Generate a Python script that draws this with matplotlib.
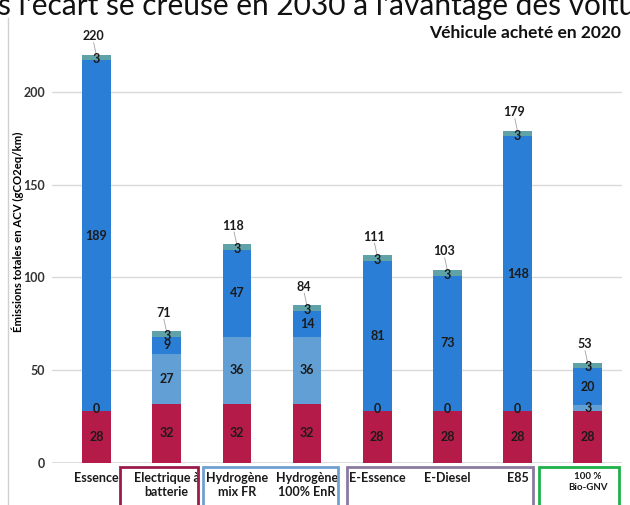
import matplotlib.pyplot as plt
from matplotlib.patches import Rectangle
from matplotlib.lines import Line2D

# Données (gCO2eq/km)
categories = ["Essence", "Electrique à\nbatterie", "Hydrogène\nmix FR", "Hydrogène\n100% EnR",
              "E-Essence", "E-Diesel", "E85", "100 %\nBio-GNV"]
fabrication = [28, 32, 32, 32, 28, 28, 28, 28]
batterie_h2 = [0, 27, 36, 36, 0, 0, 0, 3]
carburant = [189, 9, 47, 14, 81, 73, 148, 20]
fin_de_vie = [3, 3, 3, 3, 3, 3, 3, 3]
totaux = [220, 71, 118, 84, 111, 103, 179, 53]
yticks = [0, 50, 100, 150, 200]

c_fab = "#B51B48"
c_bat = "#619FD5"
c_carb = "#2B7ED6"
c_fin = "#5FA3A9"

plt.rcParams['font.family'] = ['Lato', 'DejaVu Sans']

W, H = 630, 505
fig = plt.figure(figsize=(6.3, 5.05), dpi=100)


def fx(px):
    return px / W


def fy(py):
    return 1 - py / H


ax = fig.add_axes([fx(52), fy(463), fx(622) - fx(52), fy(27) - fy(463)])
x = list(range(len(categories)))
w = 0.41

b1 = [fabrication[i] for i in x]
b2 = [fabrication[i] + batterie_h2[i] for i in x]
b3 = [b2[i] + carburant[i] for i in x]
b4 = [b3[i] + fin_de_vie[i] for i in x]

ax.bar(x, fabrication, w, color=c_fab, zorder=3)
ax.bar(x, batterie_h2, w, bottom=b1, color=c_bat, zorder=3)
ax.bar(x, carburant, w, bottom=b2, color=c_carb, zorder=3)
ax.bar(x, fin_de_vie, w, bottom=b3, color=c_fin, zorder=3)

kw = dict(ha='center', va='center', fontsize=9, fontweight='bold', color='#1a1a1a', zorder=5)
for i in x:
    ax.text(i, fabrication[i] / 2, str(fabrication[i]), **kw)
    if batterie_h2[i] == 0:
        ax.text(i, b1[i] + 1, "0", **kw)
    else:
        ax.text(i, b1[i] + batterie_h2[i] / 2, str(batterie_h2[i]), **kw)
    ax.text(i, b2[i] + carburant[i] / 2, str(carburant[i]), **kw)
    ax.text(i, b3[i] + 0.5, str(fin_de_vie[i]), **kw)
    ax.text(i - 0.05, b4[i] + 10, str(totaux[i]), **kw)
    ax.plot([i - 0.04, i], [b4[i] + 6.5, b4[i] - 0.5], color='#a0a0a0', lw=0.6, zorder=4)

ax.set_xlim(-0.634, 7.486)
ax.set_ylim(0, 235)
ax.set_yticks(yticks)
ax.set_yticklabels([str(v) for v in yticks], fontsize=9, fontweight='bold', color='#333333')
ax.tick_params(axis='y', length=0, pad=5)
ax.set_xticks([])
for s in ax.spines.values():
    s.set_visible(False)
ax.grid(axis='y', color='#d9d9d9', lw=1, zorder=0)
ax.axhline(0, color='#d9d9d9', lw=1.2, zorder=2)

ax.set_ylabel("Émissions totales en ACV (gCO2eq/km)", fontsize=8.2, fontweight='bold')
ax.yaxis.set_label_coords(-0.049, 0.53)

# étiquettes des catégories
for i, lab in enumerate(categories):
    size = 7 if i == 7 else 9
    ax.text(i, -5, lab, ha='center', va='top', fontsize=size, fontweight='bold',
            color='#1a1a1a', linespacing=1.2, clip_on=False)

# cadres autour des groupes
boxes = [(120, 198, "#9A1B4B"), (203, 338, "#6FA0D0"), (347, 533, "#8A7A9E"), (539, 619, "#20B04A")]
for x0, x1, col in boxes:
    fig.patches.append(Rectangle((fx(x0), fy(520)), fx(x1) - fx(x0), fy(467) - fy(520),
                                 transform=fig.transFigure, fill=False, edgecolor=col, lw=2))

# bord gauche
fig.add_artist(Line2D([fx(8), fx(8)], [fy(18), 0], color='#d0d0d0', lw=1))

fig.text(fx(621), fy(38), "Véhicule acheté en 2020", ha='right', va='baseline',
         fontsize=12.5, fontweight='bold', color='#111111')
fig.text(fx(-2), fy(15), "s l'écart se creuse en 2030 à l'avantage des voitures électriques",
         ha='left', va='baseline', fontsize=21.5, color='#111111')

fig.savefig("out.png", dpi=100)
